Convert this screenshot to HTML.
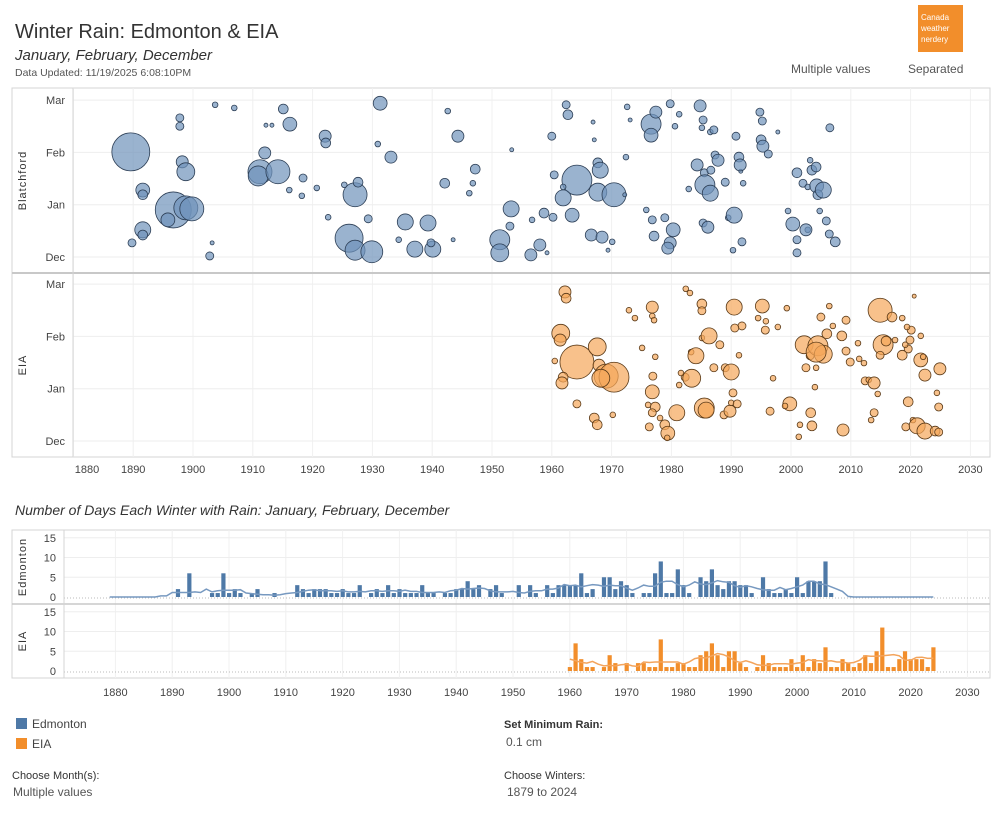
<!DOCTYPE html>
<html><head><meta charset="utf-8">
<style>
body{margin:0;background:#fff;width:1000px;height:813px;overflow:hidden;font-family:"Liberation Sans",sans-serif;}
svg{position:absolute;left:0;top:0}
text{font-family:"Liberation Sans",sans-serif;}
</style></head>
<body>
<svg id="s" width="1000" height="813" viewBox="0 0 1000 813">
<text x="15" y="38" font-size="20" fill="#333">Winter Rain: Edmonton &amp; EIA</text>
<text x="15" y="60" font-size="15" font-style="italic" fill="#333">January, February, December</text>
<text x="15" y="76" font-size="10.5" fill="#555">Data Updated: 11/19/2025 6:08:10PM</text>
<g><rect x="918" y="5" width="45" height="47" fill="#f28e2b"/>
<text x="921" y="20" font-size="8" fill="#fff">Canada</text><text x="921" y="31" font-size="8" fill="#fff">weather</text><text x="921" y="42" font-size="8" fill="#fff">nerdery</text></g>
<text x="791" y="73" font-size="12" fill="#555">Multiple values</text>
<text x="908" y="73" font-size="12" fill="#555">Separated</text>
<text x="15" y="515" font-size="14" font-style="italic" fill="#333">Number of Days Each Winter with Rain: January, February, December</text>
<g>
<rect x="16" y="718" width="11" height="11" fill="#4e79a7"/><text x="32" y="728" font-size="12" fill="#444">Edmonton</text>
<rect x="16" y="738" width="11" height="11" fill="#f28e2b"/><text x="32" y="748" font-size="12" fill="#444">EIA</text></g>
<text x="12" y="779" font-size="11" fill="#333">Choose Month(s):</text>
<text x="13" y="796" font-size="12" fill="#555">Multiple values</text>
<text x="504" y="728" font-size="11" font-weight="bold" fill="#333">Set Minimum Rain:</text>
<text x="506" y="746" font-size="12" fill="#555">0.1 cm</text>
<text x="504" y="779" font-size="11" fill="#333">Choose Winters:</text>
<text x="507" y="796" font-size="12" fill="#555">1879 to 2024</text>
</svg>
<script>
// ---- bubble chart data: [year, month position (Dec=0..Mar=3), rain] ----
const monthLabels=["Dec","Jan","Feb","Mar"];
const yearTicks=[1880,1890,1900,1910,1920,1930,1940,1950,1960,1970,1980,1990,2000,2010,2020,2030];
const blatchford=[[1889.6,2.01,90],[1891.6,1.28,12],[1891.6,1.19,6],[1891.6,.52,16],[1891.6,.42,6],[1889.8,.27,4],[1897.8,2.66,4],[1897.8,2.5,4],[1898.2,1.82,9],[1898.8,1.63,20],[1896.7,.9,81],[1898.8,.94,36],[1899.8,.92,36],[1895.8,.71,12],[1903.7,2.91,2],[1906.9,2.85,2],[1903.2,.27,1],[1902.8,.02,4],[1915.1,2.83,6],[1916.2,2.54,12],[1912.2,2.52,1],[1913.2,2.52,1],[1912,1.99,9],[1911.2,1.63,36],[1910.9,1.55,25],[1914.2,1.63,36],[1918.4,1.51,4],[1916.1,1.28,2],[1922.1,2.31,9],[1922.2,2.18,6],[1920.7,1.32,2],[1918.2,1.17,2],[1931.3,2.94,12],[1930.9,2.16,2],[1933.1,1.91,9],[1927.1,1.19,36],[1927.6,1.43,6],[1925.3,1.38,2],[1922.6,.76,2],[1926.1,.36,49],[1927.1,.13,25],[1929.9,.1,30],[1929.3,.73,4],[1935.5,.67,16],[1939.3,.65,16],[1934.4,.33,2],[1937.1,.15,16],[1940.1,.15,16],[1939.8,.27,4],[1942.6,2.79,2],[1944.3,2.31,9],[1942.1,1.41,6],[1947.2,1.68,6],[1946.8,1.41,2],[1946.2,1.22,2],[1943.5,.33,1],[1953.3,2.05,1],[1953.2,.92,16],[1951.3,.33,25],[1951.3,.08,20],[1953,.59,4],[1956.7,.71,2],[1958.7,.84,6],[1960.2,.76,4],[1958,.23,9],[1959.2,.08,1],[1956.5,.04,9],[1962.4,2.91,4],[1962.7,2.72,6],[1960,2.31,4],[1966.9,2.58,1],[1967.1,2.24,1],[1967.7,1.8,6],[1964.2,1.47,56],[1967.7,1.24,20],[1968.1,1.66,16],[1970.4,1.19,36],[1961.9,1.13,16],[1963.4,.8,12],[1960.4,1.57,4],[1961.9,1.34,2],[1966.6,.42,9],[1968.4,.38,9],[1970.1,.29,2],[1969.4,.13,1],[1973.1,2.62,1],[1972.6,2.87,2],[1972.4,1.91,2],[1972.2,1.19,1],[1975.8,.9,2],[1976.8,.71,4],[1978.9,.75,4],[1977.1,.4,6],[1980.3,.52,12],[1979.8,.27,9],[1979.4,.17,9],[1976.6,2.54,25],[1976.6,2.33,12],[1977.4,2.77,9],[1979.8,2.93,4],[1981.3,2.73,2],[1980.6,2.5,2],[1985.1,2.47,2],[1984.8,2.89,9],[1985.3,2.62,4],[1986.5,2.39,2],[1987.1,2.43,4],[1990.8,2.31,4],[1991.3,1.91,6],[1982.9,1.3,2],[1984.3,1.76,9],[1985.5,1.61,4],[1985.6,1.38,25],[1986.5,1.22,16],[1985.3,.65,4],[1986.1,.57,9],[1989.5,.75,2],[1987.3,1.95,4],[1987.8,1.85,9],[1986.6,1.66,4],[1990.5,.8,16],[1989,1.43,4],[1991.6,1.64,1],[1992,1.41,2],[1991.5,1.76,9],[1994.8,2.77,4],[1995.2,2.6,4],[1995,2.24,6],[1995.3,2.12,9],[1996.2,1.97,4],[1997.8,2.39,1],[1991.8,.29,4],[1990.3,.13,2],[2001,1.61,6],[2002,1.41,4],[2002.8,1.34,2],[2003.2,1.85,2],[2003.5,1.66,6],[2004.3,1.36,12],[2004.2,1.72,6],[2004.8,.88,2],[2004.5,1.19,6],[2005.4,1.28,16],[2006.5,2.47,4],[2007.4,.29,6],[2006.4,.44,4],[2005.9,.69,4],[2000.3,.63,12],[2001,.33,4],[2001,.08,4],[2002.8,.52,2],[2002.5,.52,9],[1999.5,.88,2]];
const eia=[[1962.2,2.85,9],[1962.4,2.73,6],[1961.5,2.06,20],[1961.4,1.93,9],[1964.2,1.51,72],[1960.5,1.53,2],[1961.9,1.22,6],[1961.7,1.11,9],[1967.6,1.8,20],[1967.9,1.45,9],[1969.1,1.24,36],[1970.4,1.22,56],[1968.2,1.2,20],[1964.2,.71,4],[1967.1,.44,6],[1967.6,.31,6],[1970.2,.5,2],[1972.9,2.5,2],[1973.9,2.35,2],[1976.8,2.56,9],[1976.8,2.39,2],[1977.1,2.31,2],[1977.3,1.61,2],[1975.1,1.78,2],[1976.9,1.24,4],[1976.8,.94,12],[1977.3,.65,6],[1976.8,.54,4],[1978.1,.44,2],[1976.1,.69,2],[1976.3,.27,4],[1978.9,.31,6],[1979.4,.15,12],[1979.3,.06,2],[1980.9,.54,16],[1982.4,2.91,2],[1983.1,2.83,2],[1985.1,2.62,6],[1985.1,2.49,4],[1982.3,1.22,4],[1983.3,1.7,2],[1981.6,1.3,2],[1981.3,1.07,2],[1985.1,1.97,2],[1986.3,2.01,16],[1984.1,1.63,16],[1983.4,1.2,20],[1985.5,.63,25],[1985.8,.59,16],[1988.8,.5,4],[1989.8,.57,9],[1987.1,1.4,4],[1989,1.4,4],[1988.1,1.84,4],[1990,.73,2],[1990.5,2.56,16],[1990,1.32,16],[1990.3,.92,4],[1991.3,1.64,2],[1991.8,2.2,4],[1990.6,2.16,4],[1991,.71,4],[1994.5,2.35,2],[1995.2,2.58,12],[1995.7,2.12,4],[1995.8,2.29,2],[1997,1.2,2],[1996.5,.57,4],[1999.3,2.54,2],[1999.8,.71,12],[1999,.67,2],[1997.8,2.18,2],[2001.5,.31,2],[2001.3,.08,2],[2002.2,1.84,20],[2002.5,1.4,4],[2003.3,.54,6],[2003.5,.29,6],[2003.2,1.63,4],[2004.2,1.4,2],[2004,1.03,2],[2005,2.37,4],[2004.5,1.82,25],[2005.4,1.66,20],[2004.2,1.7,25],[2006,2.05,6],[2007,2.2,2],[2006.4,2.58,2],[2009.2,2.31,4],[2008.5,2.01,6],[2009.2,1.72,4],[2009.9,1.51,4],[2008.7,.21,9],[2011.2,1.87,2],[2011.4,1.57,2],[2012.2,1.49,2],[2012.4,1.15,4],[2013,1.17,2],[2013.9,1.11,9],[2014.5,.9,2],[2013.9,.54,4],[2013.4,.4,2],[2014.9,2.5,36],[2016.9,2.37,6],[2018.6,2.35,2],[2015.4,1.84,25],[2015.9,1.91,6],[2014.9,1.64,4],[2017.4,1.93,2],[2019.9,1.93,4],[2019.6,1.76,4],[2020.1,2.12,4],[2019.4,2.18,2],[2019.1,1.84,2],[2018.6,1.64,6],[2020.6,2.77,1],[2019.6,.75,6],[2020.4,.4,2],[2021.7,1.55,12],[2021.7,2.01,2],[2022.4,1.26,9],[2022.1,1.61,2],[2019.2,.27,4],[2021.1,.29,16],[2022.4,.19,16],[2024.1,.19,6],[2024.7,.65,4],[2024.7,.17,4],[2024.9,1.38,9],[2024.4,.92,2]];
// ---- bar chart data ----
const edmYears=[1891,1893,1897,1898,1899,1900,1901,1902,1904,1905,1908,1912,1913,1914,1915,1916,1917,1918,1919,1920,1921,1922,1923,1925,1926,1927,1928,1929,1930,1931,1932,1933,1934,1935,1936,1938,1939,1940,1941,1942,1943,1944,1946,1947,1948,1951,1953,1954,1956,1957,1958,1959,1960,1961,1962,1963,1964,1966,1967,1968,1969,1970,1971,1973,1974,1975,1976,1977,1978,1979,1980,1981,1983,1984,1985,1986,1987,1988,1989,1990,1991,1992,1994,1995,1996,1997,1998,1999,2000,2001,2002,2003,2004,2005,2006];
const edmDays=[2,6,1,1,6,1,2,1,1,2,1,3,2,1,2,2,2,1,1,2,1,1,3,1,2,1,3,1,2,1,1,1,3,1,1,1,1,2,2,4,2,3,2,3,1,3,3,1,3,1,3,3,3,3,6,1,2,5,5,2,4,3,1,1,1,6,9,1,1,7,3,1,5,4,7,3,2,4,4,3,3,1,5,2,1,1,2,1,5,1,4,4,4,9,1];
const eiaYears=[1960,1961,1962,1963,1964,1966,1967,1968,1970,1972,1973,1974,1975,1976,1977,1978,1979,1980,1981,1982,1983,1984,1985,1986,1987,1988,1989,1990,1991,1993,1994,1995,1996,1997,1998,1999,2000,2001,2002,2003,2004,2005,2006,2007,2008,2009,2010,2011,2012,2013,2014,2015,2016,2017,2018,2019,2020,2021,2022,2023,2024];
const eiaDays=[1,7,3,1,1,1,4,2,2,2,2,1,1,8,1,1,2,2,1,1,4,5,7,4,1,5,5,2,1,1,4,2,1,1,1,3,1,4,1,3,2,6,1,1,3,2,1,2,4,2,5,11,1,1,3,5,3,3,3,1,6];
const dayTicks=[0,5,10,15];

const NS="http://www.w3.org/2000/svg",svg=document.getElementById('s');
function el(t,a,p){const e=document.createElementNS(NS,t);for(const k in a)e.setAttribute(k,a[k]);(p||svg).appendChild(e);return e;}

// ---------- bubble chart ----------
const bx=y=>193+(y-1900)*5.98;
const panels=[{name:'blatchford',base:257,data:blatchford,fill:'#6f93bb',stroke:'#2c3e55',label:'Blatchford',top:88,bot:273},
              {name:'eia',base:441,data:eia,fill:'#f5a75a',stroke:'#5a3a18',label:'EIA',top:273,bot:457}];
const my=(p,m)=>p.base-m*52.3;
el('rect',{x:12,y:88,width:978,height:369,fill:'none',stroke:'#d4d4d4'});
panels.forEach(p=>{
  const g=el('g',{});
  
  
  yearTicks.forEach(t=>{const l=el('line',{x1:bx(t),x2:bx(t),y1:p.top,y2:p.bot,stroke:'#f0f0f0'},g);});
  monthLabels.forEach((m,i)=>{
    el('line',{x1:73,x2:990,y1:my(p,i),y2:my(p,i),stroke:'#eeeeee'},g);
    const t=el('text',{x:65,y:my(p,i)+4,'text-anchor':'end','font-size':11,fill:'#444'},g);t.textContent=m;
    
    
  });
  const cy=(p.top+p.bot)/2;
  const lab=el('text',{x:26,y:cy,'text-anchor':'middle','font-size':11,fill:'#333',transform:`rotate(-90 26 ${cy})`,'letter-spacing':'1'},g);
  lab.textContent=p.label;
  
  
  p.data.forEach(d=>{
    const c=el('circle',{cx:bx(d[0]),cy:my(p,d[1]),r:Math.sqrt(d[2])*2,fill:p.fill,'fill-opacity':0.7,stroke:p.stroke,'stroke-width':0.8},g);
    
    
  });
});
el('line',{x1:12,x2:990,y1:273,y2:273,stroke:'#c8c8c8','stroke-width':2});
el('line',{x1:73,x2:73,y1:88,y2:457,stroke:'#d4d4d4'});
yearTicks.forEach((t,i)=>{
  const tx=el('text',{x:i==0?87:bx(t),y:473,'text-anchor':'middle','font-size':11,fill:'#444'});tx.textContent=t;
  
  
});

// ---------- bar chart ----------
const rx=y=>229+(y-1900)*5.68;
const bpanels=[{name:'edmonton',years:edmYears,days:edmDays,base:597,color:'#4e79a7',line:'#7799c0',label:'Edmonton',top:530,bot:604,from:1879},
               {name:'eia',years:eiaYears,days:eiaDays,base:671,color:'#f28e2b',line:'#f3a45c',label:'EIA',top:604,bot:678,from:1960}];
const vy=(p,v)=>p.base-v*3.95;
el('rect',{x:12,y:530,width:978,height:148,fill:'none',stroke:'#d4d4d4'});
bpanels.forEach(p=>{
  const g=el('g',{});
  
  
  yearTicks.forEach(t=>{el('line',{x1:rx(t),x2:rx(t),y1:p.top,y2:p.bot,stroke:'#f0f0f0'},g);});
  dayTicks.forEach(v=>{
    if(v>0)el('line',{x1:64,x2:990,y1:vy(p,v),y2:vy(p,v),stroke:'#eeeeee'},g);
    const t=el('text',{x:56,y:vy(p,v)+4,'text-anchor':'end','font-size':11,fill:'#444'},g);t.textContent=v;
    
    
  });
  el('line',{x1:64,x2:990,y1:p.base+1,y2:p.base+1,stroke:'#bbb','stroke-dasharray':'1,2'},g);
  const cy=(p.top+p.bot)/2;
  const lab=el('text',{x:26,y:cy,'text-anchor':'middle','font-size':11,fill:'#333',transform:`rotate(-90 26 ${cy})`,'letter-spacing':'1'},g);
  lab.textContent=p.label;
  
  
  p.years.forEach((yr,i)=>{
    const h=p.days[i]*3.95;
    const b=el('rect',{x:rx(yr)-2,y:p.base-h,width:4.2,height:h,fill:p.color},g);
    
    
  });
  // rolling average trend (derived from the bar data)
  const map={};p.years.forEach((y,i)=>map[y]=p.days[i]);
  let pts=[];
  for(let y=p.from;y<=2024;y++){let s=0,n=0;for(let k=-3;k<=3;k++){const yy=y+k;if(yy<p.from||yy>2024)continue;s+=(map[yy]||0);n++;}pts.push(rx(y)+','+vy(p,s/n).toFixed(1));}
  const pl=el('polyline',{points:pts.join(' '),fill:'none',stroke:p.line,'stroke-width':1.5},g);
  
  
});
el('line',{x1:12,x2:990,y1:604,y2:604,stroke:'#c8c8c8','stroke-width':1.5});
el('line',{x1:64,x2:64,y1:530,y2:678,stroke:'#d4d4d4'});
yearTicks.forEach(t=>{
  const tx=el('text',{x:rx(t),y:696,'text-anchor':'middle','font-size':11,fill:'#444'});tx.textContent=t;
  
  
});
</script>
</body></html>
